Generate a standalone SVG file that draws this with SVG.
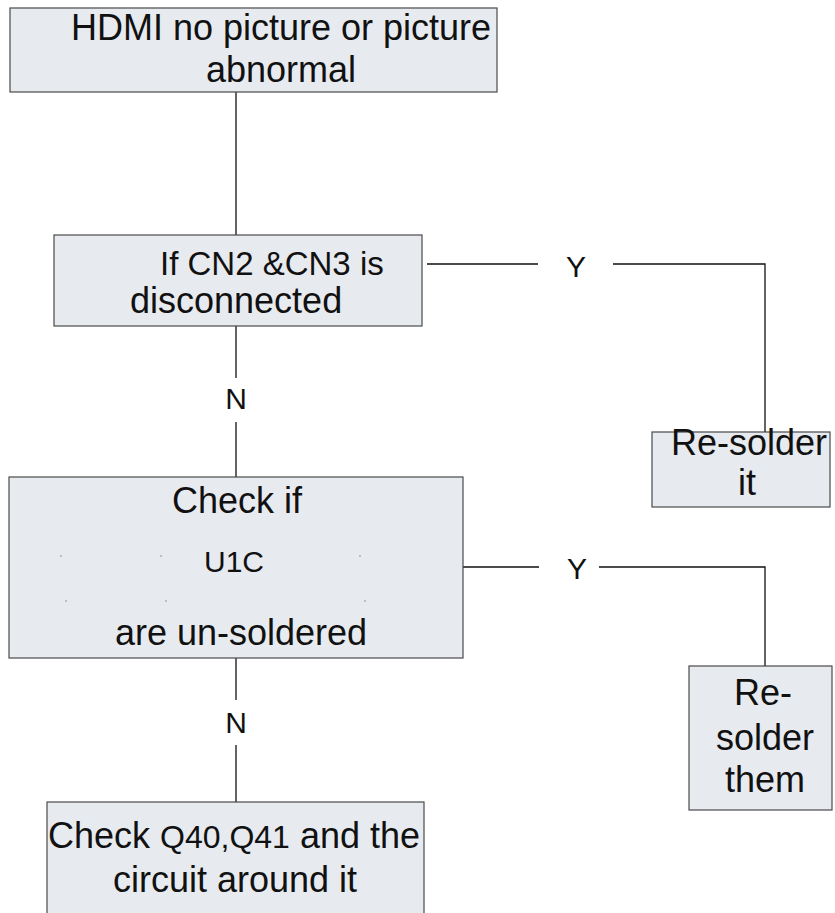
<svg xmlns="http://www.w3.org/2000/svg" width="835" height="913" viewBox="0 0 835 913">
<style>
.box{fill:#e7eaef;stroke:#4a4a4a;stroke-width:1.2}
.t{font-family:"Liberation Sans",Arial,sans-serif;font-size:36px;fill:#111}
.lbl{font-family:"Liberation Sans",Arial,sans-serif;font-size:30px;fill:#111;text-anchor:middle}
.c{fill:none;stroke:#111;stroke-width:1.3}
.dot{fill:#888}
</style>
<rect width="835" height="913" fill="#fff"/>
<g id="connectors">
<line class="c" x1="236" y1="92" x2="236" y2="235"/>
<path class="c" d="M427 264 H538 M613 264 H765 V432"/>
<line class="c" x1="236" y1="326" x2="236" y2="378"/>
<line class="c" x1="236" y1="422" x2="236" y2="477"/>
<path class="c" d="M463 567 H539 M599 567 H765 V666"/>
<line class="c" x1="236" y1="658" x2="236" y2="700"/>
<line class="c" x1="236" y1="745" x2="236" y2="802"/>
<text class="lbl" x="576" y="277">Y</text>
<text class="lbl" x="236" y="409">N</text>
<text class="lbl" x="577" y="579">Y</text>
<text class="lbl" x="236" y="733">N</text>
</g>
<g id="n1">
<rect class="box" x="10" y="8" width="487" height="84"/>
<text class="t" x="281" y="40" text-anchor="middle">HDMI no picture or picture</text>
<text class="t" x="281" y="82" text-anchor="middle">abnormal</text>
</g>
<g id="n2">
<rect class="box" x="54" y="235" width="368" height="91"/>
<text class="t" x="160" y="275" style="font-size:33px">If CN2 &amp;CN3 is</text>
<text class="t" x="130" y="313">disconnected</text>
</g>
<g id="n3">
<rect class="box" x="652" y="432" width="178" height="75"/>
<text class="t" x="749" y="455" text-anchor="middle">Re-solder</text>
<text class="t" x="747" y="495" text-anchor="middle">it</text>
</g>
<g id="n4">
<rect class="box" x="9" y="477" width="454" height="181"/>
<text class="t" x="237" y="513" text-anchor="middle">Check if</text>
<text class="t" x="234" y="572" text-anchor="middle" style="font-size:30px">U1C</text>
<text class="t" x="241" y="645" text-anchor="middle">are un-soldered</text>
<circle class="dot" cx="61" cy="556" r="0.8"/>
<circle class="dot" cx="161" cy="556" r="0.8"/>
<circle class="dot" cx="360" cy="556" r="0.8"/>
<circle class="dot" cx="66" cy="601" r="0.8"/>
<circle class="dot" cx="166" cy="601" r="0.8"/>
<circle class="dot" cx="365" cy="601" r="0.8"/>
</g>
<g id="n5">
<rect class="box" x="689" y="666" width="143" height="144"/>
<text class="t" x="763" y="705" text-anchor="middle">Re-</text>
<text class="t" x="765" y="750" text-anchor="middle">solder</text>
<text class="t" x="765" y="792" text-anchor="middle">them</text>
</g>
<g id="n6">
<rect class="box" x="47" y="802" width="377" height="130"/>
<text class="t" x="234" y="848" text-anchor="middle">Check <tspan style="font-size:32px">Q40,Q41</tspan> and the</text>
<text class="t" x="235" y="892" text-anchor="middle">circuit around it</text>
</g>
</svg>
